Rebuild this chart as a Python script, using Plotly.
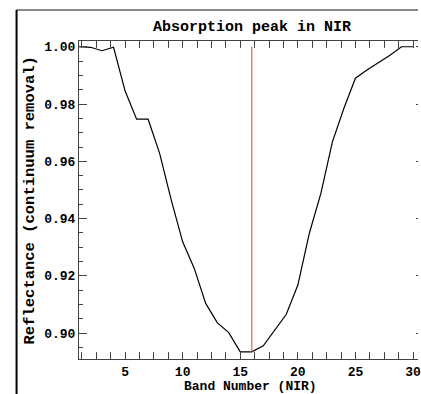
import plotly.graph_objects as go

bands = list(range(1, 31))
reflectance = [1.0000, 0.9998, 0.9986, 0.9998, 0.9846, 0.9747, 0.9747, 0.9628, 0.9466, 0.9319,
               0.9227, 0.9104, 0.9037, 0.9002, 0.8935, 0.8935, 0.8956, 0.9010, 0.9066, 0.9168,
               0.9349, 0.9488, 0.9668, 0.9785, 0.9890, 0.9919, 0.9945, 0.9970, 1.0000, 1.0000]
peak_band = 16
peak_value = 0.8935
marker_top = 1.0

title_text = "Absorption peak in NIR"
xtitle_text = "Band Number (NIR)"
ytitle_text = "Reflectance (continuum removal)"

FONT = "Liberation Mono"
AX = "#444444"

fig = go.Figure()
fig.add_trace(go.Scatter(x=bands, y=reflectance, mode="lines",
                         line=dict(color="black", width=1.2), showlegend=False))
fig.add_trace(go.Scatter(x=[peak_band, peak_band], y=[peak_value, marker_top], mode="lines",
                         line=dict(color="rgb(235,90,90)", width=1.2), showlegend=False))
# invisible trace for right-hand tick marks
fig.add_trace(go.Scatter(x=[peak_band], y=[marker_top], yaxis="y2", mode="markers",
                         marker=dict(opacity=0), showlegend=False, hoverinfo="skip"))

W, H = 421, 394
L, T, B = 79, 41, 35
fig.update_layout(
    width=W, height=H,
    margin=dict(l=L, r=0, t=T, b=B, pad=0),
    paper_bgcolor="white", plot_bgcolor="white",
    font=dict(family=FONT, color="black"),
    xaxis=dict(range=[1, 1 + (W - L) / 11.62], tick0=0, dtick=5, ticks="inside", ticklen=7,
               tickcolor=AX, showline=True, linecolor=AX, linewidth=1, mirror="allticks",
               showgrid=False, zeroline=False, ticklabeloverflow="allow",
               tickfont=dict(family=FONT, size=13, weight="bold"),
               minor=dict(dtick=1.25, ticks="inside", ticklen=3, tickcolor=AX, showgrid=False)),
    yaxis=dict(range=[0.891, 1.002], tick0=0, dtick=0.02, tickformat=".2f", ticks="inside",
               ticklen=8, tickcolor=AX, showline=True, linecolor=AX, linewidth=1, mirror=False,
               showgrid=False, zeroline=False,
               tickfont=dict(family=FONT, size=13, weight="bold"),
               minor=dict(dtick=0.005, ticks="inside", ticklen=4, tickcolor=AX, showgrid=False)),
    yaxis2=dict(range=[0.891, 1.002], overlaying="y", side="right", tick0=0, dtick=0.02,
                ticks="inside", ticklen=2, tickcolor=AX, showticklabels=False, showline=False,
                showgrid=False, zeroline=False),
)

pw = W - L
ph = H - T - B
def px_x(p):
    return (p - L) / pw
def px_y(p):
    return (H - B - p) / ph

fig.add_annotation(text=title_text, xref="paper", yref="paper", x=px_x(253.5), y=px_y(28),
                   xanchor="center", yanchor="middle", showarrow=False,
                   font=dict(family=FONT, size=15, weight="bold"))
fig.add_annotation(text=xtitle_text, xref="paper", yref="paper", x=px_x(252.5), y=px_y(386),
                   xanchor="center", yanchor="middle", showarrow=False,
                   font=dict(family=FONT, size=13, weight="bold"))
fig.add_annotation(text=ytitle_text, xref="paper", yref="paper", x=px_x(30), y=px_y(200),
                   xanchor="center", yanchor="middle", showarrow=False, textangle=-90,
                   font=dict(family=FONT, size=15.5, weight="bold"))

# window frame lines
fig.add_shape(type="line", xref="paper", yref="paper", x0=px_x(16), x1=px_x(421),
              y0=px_y(10), y1=px_y(10), line=dict(color="#888888", width=2))
fig.add_shape(type="line", xref="paper", yref="paper", x0=px_x(16), x1=px_x(16),
              y0=px_y(10), y1=px_y(394), line=dict(color="black", width=2))

fig.write_html("out.html", config={"displayModeBar": False},
               post_script="document.body.style.margin='0';document.body.style.overflow='hidden';")
